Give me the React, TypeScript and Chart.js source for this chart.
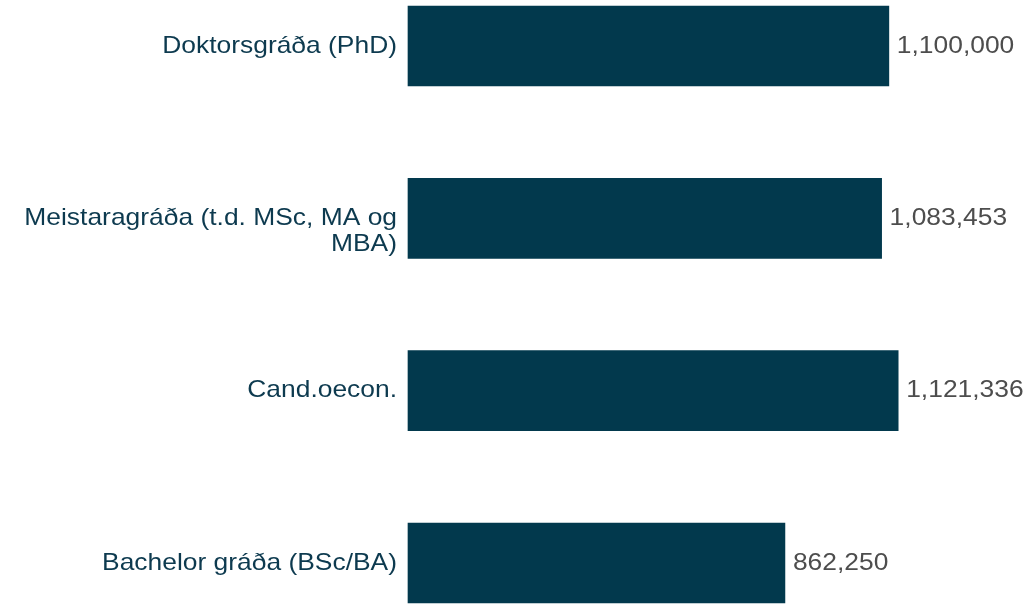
import React, { useEffect, useRef } from "react";
import { Chart, registerables } from "chart.js";

Chart.register(...registerables);

const categories: string[][] = [
  ["Doktorsgráða (PhD)"],
  ["Meistaragráða (t.d. MSc, MA og", "MBA)"],
  ["Cand.oecon."],
  ["Bachelor gráða (BSc/BA)"],
];
const values = [1100000, 1083453, 1121336, 862250];

const BAR_COLOR = "#02394d";
const LABEL_COLOR = "#0d3a4f";
const VALUE_COLOR = "#4d4d4d";
const FONT = "'Liberation Sans', Arial, sans-serif";
const FONT_SIZE = 24;
const STRETCH = 1.1;
const LINE_GAP = 26.5;

const textLabels = {
  id: "textLabels",
  afterDatasetsDraw(chart: any) {
    const ctx = chart.ctx;
    const meta = chart.getDatasetMeta(0);
    const yScale = chart.scales.y;
    ctx.save();
    ctx.font = `${FONT_SIZE}px ${FONT}`;
    ctx.textBaseline = "middle";
    meta.data.forEach((el: any, i: number) => {
      // value label
      ctx.save();
      ctx.translate(el.x + 8, el.y);
      ctx.scale(STRETCH, 1);
      ctx.textAlign = "left";
      ctx.fillStyle = VALUE_COLOR;
      ctx.fillText(values[i].toLocaleString("en-US"), 0, 0);
      ctx.restore();
      // category label
      const lines = categories[i];
      lines.forEach((line, j) => {
        ctx.save();
        ctx.translate(yScale.right - 11, el.y + j * LINE_GAP);
        ctx.scale(STRETCH, 1);
        ctx.textAlign = "right";
        ctx.fillStyle = LABEL_COLOR;
        ctx.fillText(line, 0, 0);
        ctx.restore();
      });
    });
    ctx.restore();
  },
};

export default function App() {
  const ref = useRef<HTMLCanvasElement>(null);
  useEffect(() => {
    document.body.style.margin = "0";
    const chart = new Chart(ref.current!, {
      type: "bar",
      data: {
        labels: categories.map((c) => c.join(" ")),
        datasets: [
          {
            data: values,
            backgroundColor: BAR_COLOR,
            barThickness: 80,
            clip: false as any,
          },
        ],
      },
      options: {
        indexAxis: "y",
        animation: false,
        responsive: false,
        maintainAspectRatio: false,
        layout: { padding: { top: 46, bottom: 41, left: 0, right: 9 } },
        plugins: { legend: { display: false }, tooltip: { enabled: false } },
        scales: {
          x: { display: false, min: 0, max: 1400000 },
          y: {
            offset: false,
            grid: { display: false, drawTicks: false },
            border: { display: false },
            ticks: { display: false },
            afterFit: (scale: any) => {
              scale.width = 408;
            },
          },
        },
      },
      plugins: [textLabels],
    });
    return () => chart.destroy();
  }, []);
  return (
    <div style={{ width: 1029, height: 604 }}>
      <canvas ref={ref} width={1029} height={604} style={{ display: "block" }} />
    </div>
  );
}
